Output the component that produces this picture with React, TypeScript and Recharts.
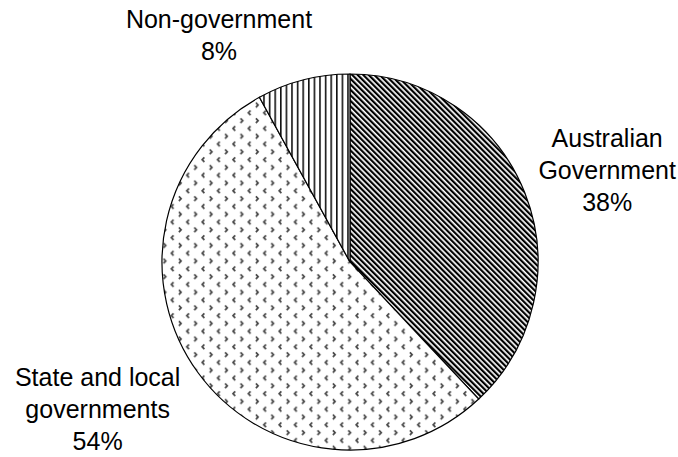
import React from "react";
import { PieChart, Pie, Cell } from "recharts";

const categories = ["Australian Government", "State and local governments", "Non-government"];
const labelLines = [["Australian", "Government"], ["State and local", "governments"], ["Non-government"]];
const shares = [38, 54, 8];
const patternIds = ["patAus", "patState", "patNon"];

// label layout: angle shift from slice mid-angle (deg) and radial distance to block centre
const LABEL_LAYOUT = [
  { shift: -2, dist: 273 },
  { shift: -5.8, dist: 292 },
  { shift: 15.6, dist: 262 },
];

const data = categories.map((name, i) => ({ name, value: shares[i], lines: labelLines[i] }));

const FONT = "'Liberation Sans', Arial, sans-serif";
const LINE_H = 32;

const renderLabel = (props: any) => {
  const { cx, cy, midAngle, index } = props;
  const lay = LABEL_LAYOUT[index];
  const a = ((midAngle + lay.shift) * Math.PI) / 180;
  const x = cx + lay.dist * Math.cos(a);
  const y = cy - lay.dist * Math.sin(a);
  const lines = [...data[index].lines, `${data[index].value}%`];
  const first = y - ((lines.length - 1) / 2) * LINE_H + 9;
  return (
    <text x={x} y={first} textAnchor="middle" fontFamily={FONT} fontSize={25} fill="#000">
      {lines.map((l, k) => (
        <tspan key={k} x={x} y={first + k * LINE_H}>
          {l}
        </tspan>
      ))}
    </text>
  );
};

export default function App() {
  return (
    <div style={{ position: "absolute", left: 0, top: 0, width: 678, height: 457, background: "#fff" }}>
      <svg width={0} height={0} style={{ position: "absolute" }}>
        <defs>
          <pattern id="patAus" patternUnits="userSpaceOnUse" width={3.9} height={10} patternTransform="rotate(-45)">
            <rect x={0} y={0} width={3.9} height={10} fill="#fff" />
            <rect x={0} y={0} width={2.2} height={10} fill="#000" />
          </pattern>
          <pattern id="patNon" patternUnits="userSpaceOnUse" width={5.6} height={10}>
            <rect x={0} y={0} width={5.6} height={10} fill="#fff" />
            <rect x={0} y={0} width={1.6} height={10} fill="#111" />
          </pattern>
          <pattern id="patState" patternUnits="userSpaceOnUse" width={15.4} height={15.6}>
            <rect x={0} y={0} width={15.4} height={15.6} fill="#fff" />
            <path d="M4.2,1.3 L2,3.6 L4.2,5.9" stroke="#444" strokeWidth={1.7} fill="none" />
            <path d="M9.5,9.1 L11.7,11.4 L9.5,13.7" stroke="#444" strokeWidth={1.7} fill="none" />
          </pattern>
        </defs>
      </svg>
      <PieChart width={678} height={457} style={{ position: "absolute", left: 0, top: 0 }}>
        <Pie
          data={data}
          dataKey="value"
          nameKey="name"
          cx={345}
          cy={257}
          outerRadius={188}
          innerRadius={0}
          startAngle={90}
          endAngle={-270}
          stroke="#000"
          strokeWidth={1.2}
          label={renderLabel}
          labelLine={false}
          isAnimationActive={false}
        >
          {data.map((d, i) => (
            <Cell key={d.name} fill={`url(#${patternIds[i]})`} />
          ))}
        </Pie>
      </PieChart>
    </div>
  );
}
